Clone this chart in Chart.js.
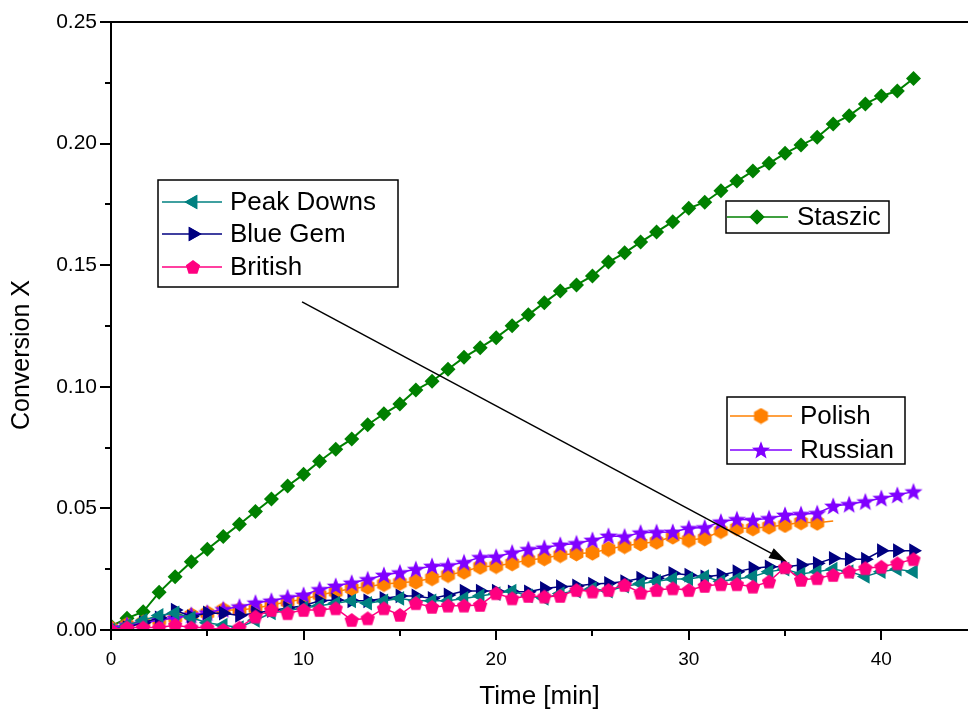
<!DOCTYPE html>
<html><head><meta charset="utf-8">
<script src="https://cdn.jsdelivr.net/npm/chart.js@4"></script>
<style>html,body{margin:0;padding:0;background:#fff}#wrap{width:968px;height:712px;position:relative}</style>
</head><body><div id="wrap"><canvas id="c" width="968" height="712"></canvas></div>
<script>
// ---------------- DATA ----------------
const time = [0,0.83,1.67,2.5,3.33,4.17,5,5.83,6.67,7.5,8.33,9.17,10,10.83,11.67,12.5,13.33,14.17,15,15.83,16.67,17.5,18.33,19.17,20,20.83,21.67,22.5,23.33,24.17,25,25.83,26.67,27.5,28.33,29.17,30,30.83,31.67,32.5,33.33,34.17,35,35.83,36.67,37.5,38.33,39.17,40,40.83,41.67];
const peakDowns = [0,0.002,0.004,0.006,0.007,0.005,0.003,0.002,0.001,0.004,0.007,0.008,0.009,0.010,0.011,0.012,0.011,0.012,0.013,0.012,0.012,0.012,0.013,0.014,0.015,0.016,0.014,0.013,0.015,0.016,0.017,0.016,0.018,0.019,0.020,0.021,0.021,0.022,0.020,0.021,0.022,0.024,0.025,0.023,0.024,0.025,0.024,0.022,0.024,0.025,0.024];
const blueGem = [0,0.001,0.003,0.005,0.0082,0.0055,0.007,0.0069,0.006,0.007,0.008,0.009,0.010,0.012,0.0123,0.012,0.012,0.013,0.014,0.014,0.013,0.0144,0.016,0.016,0.016,0.0157,0.0157,0.0171,0.0178,0.0181,0.0189,0.0192,0.0199,0.0213,0.0213,0.0233,0.0226,0.0219,0.0226,0.0240,0.0254,0.0260,0.0260,0.0267,0.0274,0.0295,0.0291,0.0291,0.0326,0.0326,0.0326];
const british = [0,0.001,0.001,0.001,0.002,0.001,0.001,0,0.001,0.0055,0.0082,0.0069,0.0082,0.0082,0.0089,0.0041,0.0048,0.0089,0.0062,0.0110,0.0095,0.010,0.010,0.0103,0.0151,0.0130,0.014,0.0137,0.014,0.0164,0.0158,0.0164,0.0185,0.0153,0.0164,0.0171,0.0164,0.0181,0.0188,0.0188,0.0178,0.0199,0.0258,0.0206,0.0213,0.0226,0.0240,0.0254,0.0260,0.0274,0.0291];
const staszic = [0.0016,0.0048,0.0075,0.0155,0.0219,0.0281,0.0332,0.0384,0.0435,0.0487,0.0539,0.0592,0.0640,0.0694,0.0743,0.0785,0.0844,0.0889,0.0929,0.0987,0.1023,0.1072,0.1121,0.1161,0.1202,0.1251,0.1296,0.1346,0.1394,0.1419,0.1456,0.1513,0.1551,0.1595,0.1637,0.1679,0.1734,0.1759,0.1806,0.1846,0.1887,0.1919,0.1960,0.1994,0.2026,0.2081,0.2115,0.2163,0.2196,0.2216,0.2268];
const polish = [0.0007,0.002,0.003,0.004,0.005,0.006,0.0069,0.0082,0.0082,0.0089,0.0103,0.0116,0.0126,0.0144,0.0157,0.0171,0.0178,0.0189,0.0194,0.0199,0.0213,0.0226,0.0240,0.0260,0.0263,0.0274,0.0288,0.0295,0.0308,0.0315,0.0318,0.0333,0.0345,0.0356,0.0363,0.0384,0.0370,0.0377,0.0407,0.0418,0.0418,0.0425,0.0432,0.0443,0.0441,0.0448];
const russian = [0.001,0.0021,0.0028,0.0041,0.0049,0.0062,0.0071,0.0085,0.0096,0.0112,0.0120,0.0134,0.0144,0.0167,0.0181,0.0194,0.0208,0.0226,0.0236,0.0250,0.0263,0.0265,0.0278,0.0299,0.0301,0.0318,0.0332,0.0338,0.0350,0.0356,0.0370,0.0387,0.0384,0.0400,0.0402,0.0403,0.0418,0.0421,0.0445,0.0455,0.0452,0.0459,0.0473,0.0476,0.0480,0.0510,0.0517,0.0528,0.0542,0.0555,0.0569];
const xTickLabels = [0, 10, 20, 30, 40];
const yTickLabels = [0.00, 0.05, 0.10, 0.15, 0.20, 0.25];
const arrowFrom = {x: 9.92, y: 0.1349};
const arrowTo = {x: 35.1, y: 0.0281};
const xTitle = 'Time [min]';
const yTitle = 'Conversion X';

// ---------------- STYLE HELPERS ----------------
const FONT = '"Liberation Sans", Arial, sans-serif';
function shape(kind, color, size){
  const c = document.createElement('canvas');
  c.width = size; c.height = size;
  const g = c.getContext('2d');
  const cx = size/2, cy = size/2, r = size/2 - 0.5;
  g.fillStyle = color;
  g.beginPath();
  if (kind === 'pentagon') {
    for (let i=0;i<5;i++){ const a = -Math.PI/2 + i*2*Math.PI/5; const px = cx + r*Math.cos(a), py = cy + 0.6 + r*Math.sin(a); i?g.lineTo(px,py):g.moveTo(px,py); }
  } else if (kind === 'hexagon') {
    for (let i=0;i<6;i++){ const a = -Math.PI/2 + i*Math.PI/3; const px = cx + r*Math.cos(a), py = cy + r*Math.sin(a); i?g.lineTo(px,py):g.moveTo(px,py); }
  } else if (kind === 'star') {
    for (let i=0;i<10;i++){ const rr = i%2? r*0.42 : r; const a = -Math.PI/2 + i*Math.PI/5; const px = cx + rr*Math.cos(a), py = cy + 0.8 + rr*Math.sin(a); i?g.lineTo(px,py):g.moveTo(px,py); }
  }
  g.closePath(); g.fill();
  return c;
}
const C = {teal:'#008080', navy:'#000080', pink:'#FF0080', green:'#008000', orange:'#FF8000', purple:'#8000FF'};
const pentImg = shape('pentagon', C.pink, 16);
const hexImg = shape('hexagon', C.orange, 17);
const starImg = shape('star', C.purple, 20);

function pts(vals){ return vals.map((v,i)=>({x: time[i], y: v})); }

const common = {showLine:true, borderWidth:1.5, pointBorderWidth:0, fill:false, tension:0};
const dsBritish = {...common, label:'British', data:pts(british), borderColor:C.pink, backgroundColor:C.pink, pointStyle:pentImg, pointRadius:8};
const dsPeak = {...common, label:'Peak Downs', data:pts(peakDowns), borderColor:C.teal, backgroundColor:C.teal, pointStyle:'triangle', pointRotation:-90, pointRadius:8.5};
const dsBlue = {...common, label:'Blue Gem', data:pts(blueGem), borderColor:C.navy, backgroundColor:C.navy, pointStyle:'triangle', pointRotation:90, pointRadius:8.5};
const dsRussian = {...common, label:'Russian', data:pts(russian), borderColor:C.purple, backgroundColor:C.purple, pointStyle:starImg, pointRadius:10};
const dsPolish = {...common, label:'Polish', data:pts(polish), borderColor:C.orange, backgroundColor:C.orange, pointStyle:hexImg, pointRadius:(ctx)=> ctx.dataIndex === polish.length-1 ? 0 : 8};
const dsStaszic = {...common, label:'Staszic', data:pts(staszic), borderColor:C.green, backgroundColor:C.green, pointStyle:'rectRot', pointRadius:7.5, borderWidth:2};

const legendGroups = [
  {box:{x:158,y:180,w:240,h:107}, items:[[dsPeak,202],[dsBlue,234],[dsBritish,267]], lx0:162, lx1:222, mx:193, tx:230},
  {box:{x:726,y:201,w:163,h:32}, items:[[dsStaszic,217]], lx0:727, lx1:788, mx:757, tx:797},
  {box:{x:727,y:397,w:178,h:67}, items:[[dsPolish,416],[dsRussian,450]], lx0:730, lx1:792, mx:761, tx:800}
];

function drawMarker(ctx, ds, x, y){
  const ps = ds.pointStyle;
  if (ps instanceof HTMLCanvasElement) { ctx.drawImage(ps, x - ps.width/2, y - ps.height/2); return; }
  const r = typeof ds.pointRadius === 'number' ? ds.pointRadius : 8;
  ctx.fillStyle = ds.backgroundColor;
  Chart.helpers.drawPoint(ctx, {pointStyle: ps, rotation: ds.pointRotation || 0, radius: r, borderWidth: 0}, x, y);
  ctx.fill();
}

const decor = {
  id:'decor',
  afterDraw(chart){
    const {ctx, chartArea:a, scales:{x, y}} = chart;
    ctx.save();
    ctx.strokeStyle = '#000'; ctx.lineWidth = 2; ctx.lineCap = 'butt';
    // axis lines
    ctx.beginPath();
    ctx.moveTo(a.left, a.top); ctx.lineTo(a.left, a.bottom);
    ctx.moveTo(a.left, a.top); ctx.lineTo(a.right, a.top);
    ctx.moveTo(a.left - 1, a.bottom); ctx.lineTo(a.right, a.bottom);
    ctx.stroke();
    // tick marks
    ctx.beginPath();
    x.ticks.forEach(t => {
      const px = Math.round(x.getPixelForValue(t.value));
      const major = Math.abs(t.value % 10) < 1e-6;
      ctx.moveTo(px, a.bottom); ctx.lineTo(px, a.bottom + (major ? 10 : 6));
    });
    y.ticks.forEach(t => {
      const py = Math.round(y.getPixelForValue(t.value));
      const major = Math.abs(Math.round(t.value*1000) % 50) < 1e-6;
      ctx.moveTo(a.left, py); ctx.lineTo(a.left - (major ? 11 : 6), py);
    });
    ctx.stroke();
    // y title
    ctx.fillStyle = '#000';
    ctx.font = '25px ' + FONT;
    ctx.textAlign = 'center'; ctx.textBaseline = 'middle';
    ctx.save(); ctx.translate(22, 355); ctx.rotate(-Math.PI/2); ctx.fillText(yTitle, 0, 0); ctx.restore();
    // arrow
    const x0 = x.getPixelForValue(arrowFrom.x), y0 = y.getPixelForValue(arrowFrom.y);
    const x1 = x.getPixelForValue(arrowTo.x), y1 = y.getPixelForValue(arrowTo.y);
    const ang = Math.atan2(y1 - y0, x1 - x0);
    const hl = 18, hw = 5.5;
    ctx.strokeStyle = '#000'; ctx.lineWidth = 1.5;
    ctx.beginPath(); ctx.moveTo(x0, y0); ctx.lineTo(x1 - Math.cos(ang)*hl*0.8, y1 - Math.sin(ang)*hl*0.8); ctx.stroke();
    ctx.beginPath();
    ctx.moveTo(x1, y1);
    ctx.lineTo(x1 - Math.cos(ang)*hl - Math.sin(ang)*hw, y1 - Math.sin(ang)*hl + Math.cos(ang)*hw);
    ctx.lineTo(x1 - Math.cos(ang)*hl + Math.sin(ang)*hw, y1 - Math.sin(ang)*hl - Math.cos(ang)*hw);
    ctx.closePath(); ctx.fillStyle = '#000'; ctx.fill();
    // legends
    legendGroups.forEach(g => {
      ctx.fillStyle = '#fff';
      ctx.fillRect(g.box.x, g.box.y, g.box.w, g.box.h);
      ctx.strokeStyle = '#000'; ctx.lineWidth = 1.5;
      ctx.strokeRect(g.box.x, g.box.y, g.box.w, g.box.h);
      g.items.forEach(([ds, ry]) => {
        ctx.strokeStyle = ds.borderColor; ctx.lineWidth = 1.5;
        ctx.beginPath(); ctx.moveTo(g.lx0, ry); ctx.lineTo(g.lx1, ry); ctx.stroke();
        drawMarker(ctx, ds, g.mx, ry);
        ctx.fillStyle = '#000'; ctx.font = '26px ' + FONT;
        ctx.textAlign = 'left'; ctx.textBaseline = 'middle';
        ctx.fillText(ds.label, g.tx, ry + 1);
      });
    });
    ctx.restore();
  }
};

new Chart(document.getElementById('c'), {
  type: 'scatter',
  data: { datasets: [dsBritish, dsPeak, dsBlue, dsRussian, dsPolish, dsStaszic] },
  options: {
    responsive:false, animation:false, devicePixelRatio:1,
    layout:{autoPadding:false, padding:{top:22, right:0, bottom:0, left:0}},
    plugins:{legend:{display:false}, tooltip:{enabled:false}},
    scales:{
      x:{type:'linear', min:0, max:44.5,
        afterFit(s){ s.height = 82; s.paddingLeft = 0; s.paddingRight = 0; },
        border:{display:false}, grid:{display:false, drawTicks:false},
        ticks:{stepSize:5, includeBounds:false, autoSkip:false, maxRotation:0, padding:18, color:'#000',
          font:{family:FONT, size:19},
          callback:(v)=> xTickLabels.includes(v) ? String(v) : ''},
        title:{display:true, text:xTitle, color:'#000', font:{family:FONT, size:26}, padding:{top:0, bottom:0}}
      },
      y:{type:'linear', min:0, max:0.25,
        afterFit(s){ s.width = 111; s.paddingTop = 0; s.paddingBottom = 0; },
        border:{display:false}, grid:{display:false, drawTicks:false},
        ticks:{stepSize:0.025, includeBounds:false, autoSkip:false, padding:14, color:'#000',
          font:{family:FONT, size:21},
          callback:(v)=> { const m = yTickLabels.find(t => Math.abs(t - v) < 1e-9); return m === undefined ? '' : m.toFixed(2); }}
      }
    }
  },
  plugins:[decor]
});
</script>
</body></html>
